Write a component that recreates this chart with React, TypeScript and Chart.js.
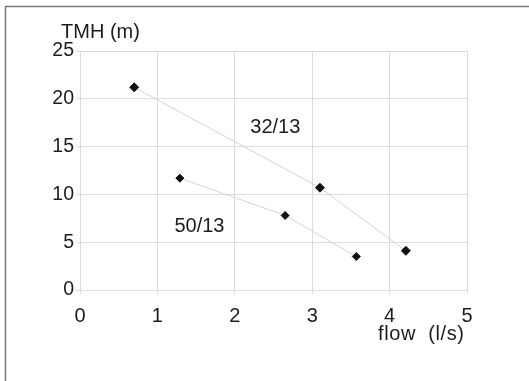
import React, { useEffect, useRef } from "react";
import { Chart, registerables } from "chart.js";

Chart.register(...registerables);

const series32X = [0.7, 3.1, 4.21];
const series32Y = [21.2, 10.7, 4.1];
const series50X = [1.29, 2.65, 3.57];
const series50Y = [11.7, 7.8, 3.5];
const xTicks = [0, 1, 2, 3, 4, 5];
const yTicks = [0, 5, 10, 15, 20, 25];
const yTitle = "TMH (m)";
const xTitle = "flow  (l/s)";
const label32 = "32/13";
const label50 = "50/13";

const FONT = "'Liberation Sans', Arial, sans-serif";

export default function App() {
  const ref = useRef<HTMLCanvasElement>(null);
  useEffect(() => {
    document.body.style.margin = "0";
    const textPlugin = {
      id: "texts",
      afterDraw(chart: any) {
        const ctx = chart.ctx as CanvasRenderingContext2D;
        const xs = chart.scales.x;
        const ys = chart.scales.y;
        ctx.save();
        ctx.strokeStyle = "#7a7a7a";
        ctx.lineWidth = 1.5;
        ctx.strokeRect(5.5, 6.5, 600, 600);
        ctx.fillStyle = "#1c1c1c";
        ctx.font = `20px ${FONT}`;
        ctx.textBaseline = "alphabetic";
        ctx.textAlign = "left";
        ctx.fillText(yTitle, 61, 38);
        (ctx as any).letterSpacing = "0.6px";
        ctx.fillText(xTitle, 378, 340);
        (ctx as any).letterSpacing = "0px";
        ctx.fillText(label32, xs.getPixelForValue(2.2), ys.getPixelForValue(16.4));
        ctx.fillText(label50, xs.getPixelForValue(1.22), ys.getPixelForValue(6.1));
        ctx.restore();
      },
    };
    const chart = new Chart(ref.current!, {
      type: "scatter",
      data: {
        datasets: [
          {
            label: label32,
            data: series32X.map((x, i) => ({ x, y: series32Y[i] })),
            showLine: true,
            borderColor: "#d4d4d4",
            borderWidth: 1,
            pointStyle: "rectRot",
            pointRadius: 4.5,
            backgroundColor: "#111",
            pointBorderColor: "#111",
          },
          {
            label: label50,
            data: series50X.map((x, i) => ({ x, y: series50Y[i] })),
            showLine: true,
            borderColor: "#d4d4d4",
            borderWidth: 1,
            pointStyle: "rectRot",
            pointRadius: 4,
            backgroundColor: "#111",
            pointBorderColor: "#111",
          },
        ],
      },
      options: {
        animation: false,
        responsive: false,
        layout: { padding: { left: 0, top: 51, right: 62, bottom: 41 } },
        plugins: { legend: { display: false }, tooltip: { enabled: false } },
        scales: {
          x: {
            type: "linear",
            min: 0,
            max: 5,
            afterFit: (s: any) => { s.height = 50; },
            afterBuildTicks: (s: any) => { s.ticks = xTicks.map((v) => ({ value: v })); },
            grid: { color: "#dcdcdc", tickLength: 4 },
            border: { color: "#dcdcdc" },
            ticks: { color: "#1c1c1c", font: { family: FONT, size: 20 }, padding: 10, maxRotation: 0 },
          },
          y: {
            type: "linear",
            min: 0,
            max: 25,
            afterFit: (s: any) => { s.width = 80; },
            afterBuildTicks: (s: any) => { s.ticks = yTicks.map((v) => ({ value: v })); },
            grid: { color: "#dcdcdc", tickLength: 4 },
            border: { color: "#dcdcdc" },
            ticks: { color: "#1c1c1c", font: { family: FONT, size: 19.5 }, padding: 2 },
          },
        },
      },
      plugins: [textPlugin],
    });
    return () => chart.destroy();
  }, []);
  return <canvas ref={ref} width={529} height={381} style={{ display: "block" }} />;
}
